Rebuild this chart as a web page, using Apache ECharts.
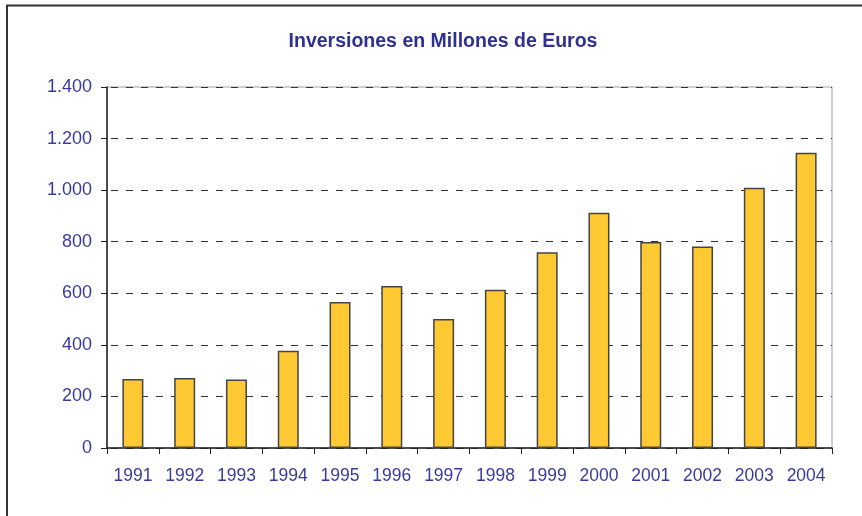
<!DOCTYPE html>
<html>
<head>
<meta charset="utf-8">
<script src="https://cdn.jsdelivr.net/npm/echarts@6/dist/echarts.min.js"></script>
<style>
  html, body { margin: 0; padding: 0; background: #ffffff; }
  #chart { width: 862px; height: 516px; }
</style>
</head>
<body>
<div id="chart"></div>
<script>
// Annual investment, millions of euros
const years = ['1991', '1992', '1993', '1994', '1995', '1996', '1997',
               '1998', '1999', '2000', '2001', '2002', '2003', '2004'];
const investment = [268, 271, 266, 377, 566, 628, 500,
                    614, 759, 912, 799, 781, 1009, 1145];
const yTicks = [0, 200, 400, 600, 800, 1000, 1200, 1400];

const textBlue = '#3a3a9c';
const fontFam = 'Liberation Sans, Arial, sans-serif';

// Thousands separator with a dot, e.g. 1.400
function fmtThousands(v) {
  return String(v).replace(/\B(?=(\d{3})+(?!\d))/g, '.');
}

const chart = echarts.init(document.getElementById('chart'), null, { renderer: 'canvas' });

chart.setOption({
  backgroundColor: '#ffffff',
  animation: false,
  title: {
    text: 'Inversiones en Millones de Euros',
    left: 438,
    top: 27,
    textAlign: 'center',
    textStyle: {
      fontFamily: fontFam,
      fontSize: 19.5,
      fontWeight: 'bold',
      color: '#303090'
    }
  },
  grid: {
    left: 107,
    right: 30,
    top: 87,
    bottom: 68,
    show: true,
    borderColor: '#a0a0a0',
    borderWidth: 1,
    backgroundColor: 'transparent'
  },
  xAxis: {
    type: 'category',
    data: years,
    boundaryGap: true,
    axisLine: { show: true, lineStyle: { color: '#222', width: 1.5 } },
    axisTick: { show: true, length: 6, interval: 0, lineStyle: { color: '#222', width: 1 } },
    axisLabel: {
      interval: 0,
      margin: 19,
      color: textBlue,
      fontFamily: fontFam,
      fontSize: 17.5
    },
    splitLine: { show: false }
  },
  yAxis: {
    type: 'value',
    min: yTicks[0],
    max: yTicks[yTicks.length - 1],
    interval: yTicks[1] - yTicks[0],
    axisLine: { show: true, lineStyle: { color: '#222', width: 1.5 } },
    axisTick: { show: true, length: 6, lineStyle: { color: '#222', width: 1 } },
    axisLabel: {
      margin: 15,
      color: textBlue,
      fontFamily: fontFam,
      fontSize: 18,
      formatter: fmtThousands
    },
    splitLine: {
      show: true,
      lineStyle: { color: '#333', width: 1, type: [7, 8], dashOffset: -4 }
    }
  },
  series: [{
    type: 'bar',
    data: investment,
    barWidth: 21,
    itemStyle: {
      color: '#ffc933',
      borderColor: '#444',
      borderWidth: 1.5
    }
  }],
  graphic: [{
    type: 'polyline',
    shape: { points: [[7, 516], [7, 5.5], [862, 5.5]] },
    style: { stroke: '#333', lineWidth: 2, fill: null },
    z: 100
  }]
});
</script>
</body>
</html>
